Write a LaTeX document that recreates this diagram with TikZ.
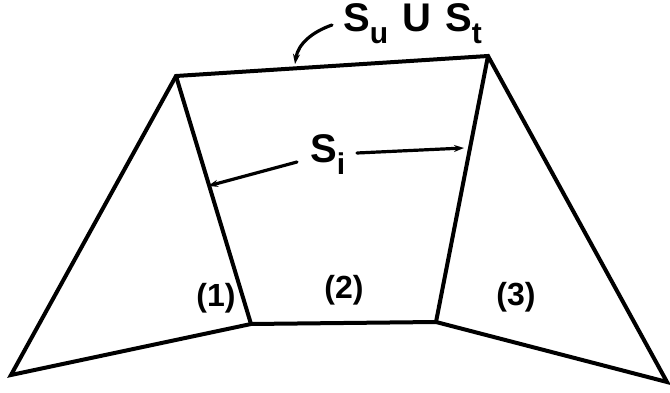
\documentclass[tikz,border=0pt]{standalone}
\usepackage{fontspec}
\setmainfont{Liberation Sans}
\usetikzlibrary{arrows.meta}
\tikzset{
  edge/.style={line width=4pt, line join=miter, line cap=round},
  leader/.style={line width=3.2pt, line cap=round, -{Stealth[length=10pt,width=7pt]}},
  lbl/.style={inner sep=0pt, font=\bfseries\fontsize{40}{44}\selectfont},
  reg/.style={inner sep=0pt, font=\bfseries\fontsize{32}{36}\selectfont}
}
\newcommand{\lowsub}[1]{\raisebox{-0.3em}{\fontsize{30}{32}\selectfont #1}}
\begin{document}
\begin{tikzpicture}[x=1pt,y=-1pt]
\useasboundingbox (0,0) rectangle (670,393);
\coordinate (A) at (176,76);
\coordinate (B) at (488,56);
\coordinate (C) at (251,324);
\coordinate (D) at (436,322);
\coordinate (E) at (11,375);
\coordinate (F) at (667,382);
% outline
\draw[edge] (E) -- (A) -- (B) -- (F) -- (D) -- (C) -- cycle;
\draw[edge] (A) -- (C);
\draw[edge] (B) -- (D);
% region labels
\node[reg] (r1) at (216,298) {(1)};
\node[reg] (r2) at (344,290) {(2)};
\node[reg] (r3) at (516,297) {(3)};
% boundary label
\node[lbl, anchor=west] (su) at (343,24) {S\lowsub{u}\hspace{0.35em}U\hspace{0.35em}S\lowsub{t}};
\coordinate (topend) at (295,64);
\draw[leader] (332,25) .. controls (312,32) and (298,44) .. (topend);
% interface label
\node[lbl, anchor=west] (si) at (310,155) {S\lowsub{i}};
\coordinate (leftend) at (208,186);
\coordinate (rightend) at (464,148);
\draw[leader] (297,162) -- (leftend);
\draw[leader] (357,153) -- (rightend);
\end{tikzpicture}
\end{document}
